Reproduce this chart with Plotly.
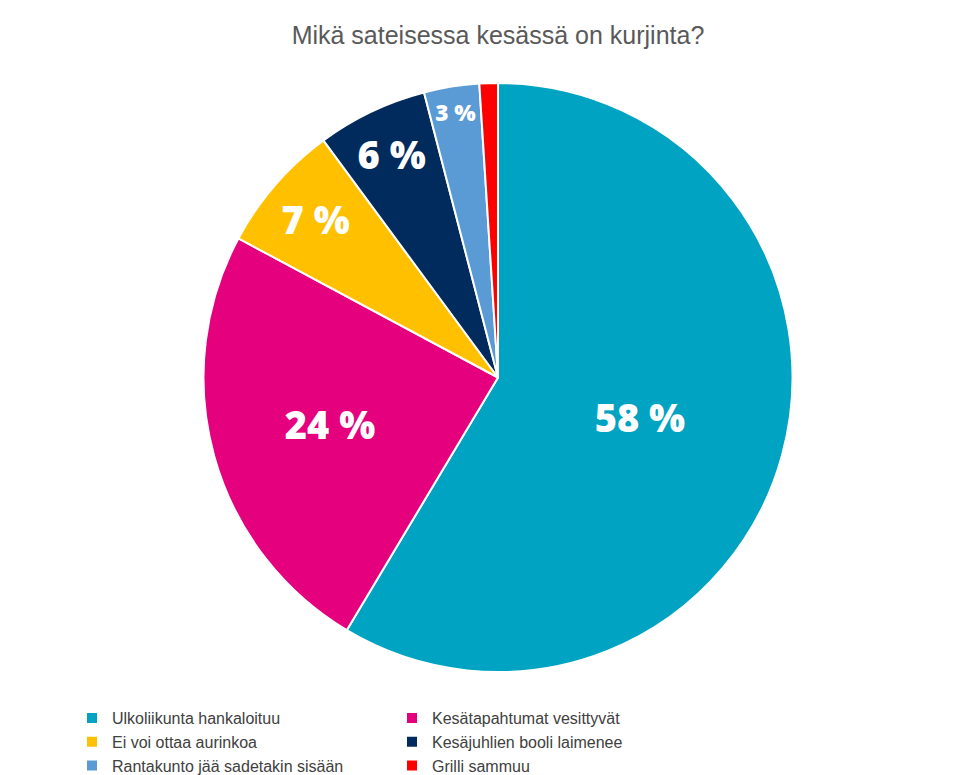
import plotly.graph_objects as go

labels = ["Ulkoliikunta hankaloituu", "Kesätapahtumat vesittyvät", "Ei voi ottaa aurinkoa",
          "Kesäjuhlien booli laimenee", "Rantakunto jää sadetakin sisään", "Grilli sammuu"]
values = [58, 24, 7, 6, 3, 1]
texts = ["58 %", "24 %", "7 %", "6 %", "3 %", ""]
colors = ["#00A3C1", "#E5007E", "#FFC000", "#002B5C", "#5B9BD5", "#FF0000"]

fig = go.Figure(go.Pie(
    labels=labels, values=values, text=texts,
    textinfo="text", textposition="inside", insidetextorientation="horizontal",
    sort=False, direction="clockwise", rotation=0,
    marker=dict(colors=colors, line=dict(color="white", width=2)),
    textfont=dict(family="Open Sans", size=38, color="white", weight=800),
    hoverinfo="label+percent",
))
fig.update_layout(
    width=980, height=775,
    paper_bgcolor="white",
    margin=dict(l=0, r=0, t=75, b=100),
    title=dict(text="Mikä sateisessa kesässä on kurjinta?", x=0.5, y=0.965, yanchor="middle",
               font=dict(family="Liberation Sans", size=25, color="#595959")),
    legend=dict(orientation="h", x=0.085, y=-0.05, yanchor="top", xanchor="left",
                entrywidth=275, entrywidthmode="pixels", traceorder="normal",
                font=dict(family="Liberation Sans", size=16, color="#404040")),
)
fig.write_html("out.html")
